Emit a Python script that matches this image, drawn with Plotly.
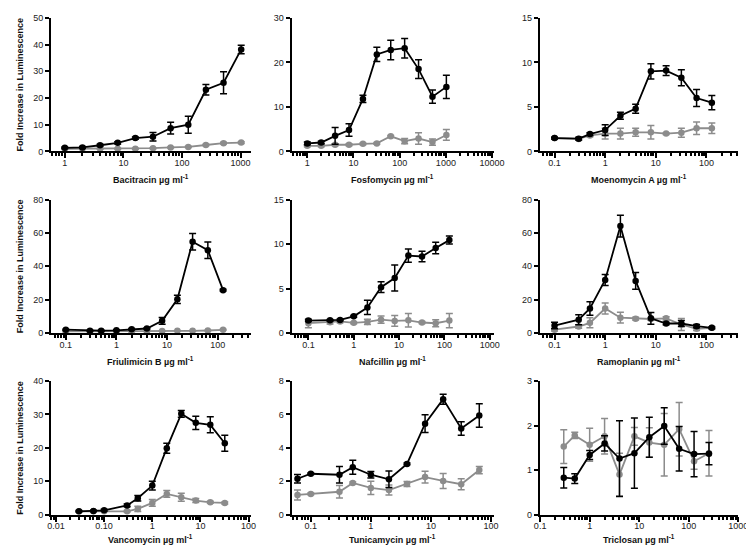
import math
import plotly.graph_objects as go

# ---------------- DATA ----------------
bac_x = [1, 2, 4, 8, 16, 32, 64, 128, 256, 512, 1024]
bac_blk = [1.35, 1.5, 2.3, 3.2, 5.0, 5.5, 8.7, 10.0, 23.1, 25.7, 38.2]
bac_blk_err = [0.3, 0.3, 0.4, 0.4, 0.4, 1.6, 2.2, 3.2, 2.0, 4.1, 1.6]
bac_gry = [1.0, 1.0, 1.0, 1.0, 1.0, 1.2, 1.5, 1.7, 2.4, 3.1, 3.3]
bac_gry_err = [0.2, 0.2, 0.2, 0.2, 0.2, 0.2, 0.2, 0.2, 0.3, 0.3, 0.3]

fos_x = [1, 2, 4, 8, 16, 32, 64, 128, 256, 512, 1024]
fos_blk = [1.8, 2.0, 3.5, 4.8, 11.8, 21.8, 22.8, 23.2, 18.5, 12.3, 14.5]
fos_blk_err = [0.3, 0.3, 1.9, 1.4, 0.8, 1.6, 2.2, 2.2, 2.1, 1.5, 2.6]
fos_gry = [1.25, 1.25, 1.5, 1.5, 1.7, 1.8, 3.4, 2.3, 2.9, 2.1, 3.7]
fos_gry_err = [0.2, 0.2, 0.2, 0.2, 0.2, 0.2, 0.2, 0.6, 1.3, 0.7, 1.2]

moe_x = [0.1, 0.3, 0.5, 1, 2, 4, 8, 16, 32, 64, 128]
moe_blk = [1.5, 1.43, 1.95, 2.4, 4.0, 4.8, 9.0, 9.08, 8.27, 6.0, 5.48]
moe_blk_err = [0.1, 0.15, 0.15, 0.6, 0.4, 0.5, 0.85, 0.55, 0.9, 0.95, 0.8]
moe_gry = [1.5, 1.4, 1.8, 2.0, 2.0, 2.15, 2.15, 2.0, 2.1, 2.6, 2.6]
moe_gry_err = [0.1, 0.1, 0.15, 0.6, 0.6, 0.45, 0.75, 0.1, 0.5, 0.7, 0.6]

fri_x = [0.1, 0.3, 0.5, 1, 2, 4, 8, 16, 32, 64, 128]
fri_blk = [2.0, 1.4, 1.4, 1.6, 2.3, 2.7, 7.3, 20.2, 54.7, 49.6, 25.7]
fri_blk_err = [0.3, 0.3, 0.3, 0.3, 0.4, 0.5, 2.0, 2.5, 5.0, 5.0, 0.5]
fri_gry = [1.0, 1.0, 1.0, 1.0, 1.0, 1.1, 1.2, 1.3, 1.3, 1.5, 1.9]
fri_gry_err = [0.2, 0.2, 0.2, 0.2, 0.2, 0.2, 0.2, 0.2, 0.2, 0.2, 0.3]

naf_x = [0.1, 0.3, 0.5, 1, 2, 4, 8, 16, 32, 64, 128]
naf_blk = [1.4, 1.43, 1.47, 1.87, 2.87, 5.15, 6.18, 8.7, 8.6, 9.56, 10.44]
naf_blk_err = [0.1, 0.1, 0.1, 0.1, 0.8, 0.6, 1.45, 0.75, 0.6, 0.65, 0.45]
naf_gry = [1.1, 1.2, 1.3, 1.15, 1.25, 1.5, 1.36, 1.43, 1.18, 1.1, 1.4]
naf_gry_err = [0.5, 0.2, 0.15, 0.1, 0.3, 0.4, 0.6, 0.75, 0.1, 0.4, 0.8]

ram_x = [0.1, 0.3, 0.5, 1, 2, 4, 8, 16, 32, 64, 128]
ram_blk = [4.5, 8.0, 14.7, 31.8, 64.1, 31.2, 8.8, 5.7, 5.7, 4.1, 3.1]
ram_blk_err = [2.0, 3.0, 4.0, 3.3, 6.5, 5.0, 3.5, 0.8, 1.8, 1.0, 0.5]
ram_gry = [2.0, 3.9, 6.1, 14.7, 9.2, 8.6, 8.4, 8.8, 5.1, 2.5, 3.1]
ram_gry_err = [0.8, 1.0, 3.0, 3.3, 3.2, 0.8, 0.8, 1.0, 3.6, 1.0, 0.5]

van_x = [0.03, 0.06, 0.1, 0.3, 0.5, 1, 2, 4, 8, 16, 32]
van_blk = [1.0, 1.1, 1.3, 2.75, 4.9, 8.7, 19.9, 30.2, 27.5, 26.9, 21.4]
van_blk_err = [0.2, 0.2, 0.3, 0.4, 0.8, 1.3, 1.5, 1.0, 2.0, 2.4, 2.4]
van_gry = [1.0, 1.0, 1.0, 1.0, 1.7, 3.5, 6.2, 5.2, 4.2, 3.7, 3.5]
van_gry_err = [0.1, 0.1, 0.1, 0.2, 0.8, 1.0, 1.0, 1.2, 0.6, 0.3, 0.3]

tun_x = [0.06, 0.1, 0.3, 0.5, 1, 2, 4, 8, 16, 32, 64]
tun_blk = [2.15, 2.45, 2.39, 2.84, 2.39, 2.12, 3.04, 5.45, 6.92, 5.16, 5.94]
tun_blk_err = [0.25, 0.05, 0.5, 0.42, 0.2, 0.5, 0.05, 0.53, 0.3, 0.4, 0.7]
tun_gry = [1.18, 1.24, 1.37, 1.9, 1.6, 1.47, 1.84, 2.25, 2.02, 1.82, 2.67]
tun_gry_err = [0.3, 0.05, 0.38, 0.05, 0.4, 0.3, 0.15, 0.35, 0.45, 0.33, 0.22]

tri_x = [0.3, 0.5, 1, 2, 4, 8, 16, 32, 64, 128, 256]
tri_blk = [0.83, 0.81, 1.34, 1.6, 1.26, 1.38, 1.74, 1.99, 1.48, 1.36, 1.37]
tri_blk_err = [0.23, 0.11, 0.1, 0.17, 0.85, 0.79, 0.45, 0.41, 0.5, 0.51, 0.25]
tri_gry = [1.53, 1.78, 1.57, 1.76, 0.9, 1.76, 1.62, 1.57, 1.92, 1.2, 1.38]
tri_gry_err = [0.38, 0.07, 0.37, 0.4, 0.48, 0.2, 0.33, 0.7, 0.6, 0.18, 0.51]

titles = ["Bacitracin", "Fosfomycin", "Moenomycin A",
          "Friulimicin B", "Nafcillin", "Ramoplanin",
          "Vancomycin", "Tunicamycin", "Triclosan"]
y_max = [50, 30, 15, 80, 15, 80, 40, 8, 3]
y_step = [10, 10, 5, 20, 5, 20, 10, 2, 1]
x_ticks = [
    [1, 10, 100, 1000],
    [1, 10, 100, 1000, 10000],
    [0.1, 1, 10, 100],
    [0.1, 1, 10, 100],
    [0.1, 1, 10, 100, 1000],
    [0.1, 1, 10, 100],
    [0.01, 0.1, 1, 10, 100],
    [0.1, 1, 10, 100],
    [0.1, 1, 10, 100, 1000],
]
x_ticktext = [
    ["1", "10", "100", "1000"],
    ["1", "10", "100", "1000", "10000"],
    ["0.1", "1", "10", "100"],
    ["0.1", "1", "10", "100"],
    ["0.1", "1", "10", "100", "1000"],
    ["0.1", "1", "10", "100"],
    ["0.01", "0.10", "1", "10", "100"],
    ["0.1", "1", "10", "100"],
    ["0.1", "1", "10", "100", "1000"],
]

panels = [
    (bac_x, bac_blk, bac_blk_err, bac_gry, bac_gry_err),
    (fos_x, fos_blk, fos_blk_err, fos_gry, fos_gry_err),
    (moe_x, moe_blk, moe_blk_err, moe_gry, moe_gry_err),
    (fri_x, fri_blk, fri_blk_err, fri_gry, fri_gry_err),
    (naf_x, naf_blk, naf_blk_err, naf_gry, naf_gry_err),
    (ram_x, ram_blk, ram_blk_err, ram_gry, ram_gry_err),
    (van_x, van_blk, van_blk_err, van_gry, van_gry_err),
    (tun_x, tun_blk, tun_blk_err, tun_gry, tun_gry_err),
    (tri_x, tri_blk, tri_blk_err, tri_gry, tri_gry_err),
]

# ---------------- LAYOUT ----------------
W, H = 754, 545
x_ranges = [(-0.233, 3.17), (-0.34, 4.04), (-1.29, 2.63),
            (-1.29, 2.65), (-1.37, 3.09), (-1.29, 2.63),
            (-2.1, 2.04), (-1.32, 2.05), (-1.005, 3.0)]
col_px = [(38, 242), (284, 491), (538, 741)]
row_px = [(5, 141), (190, 326), (375, 511)]
title_y_px = [169, 354, 536]

BLACK = "#000000"
GRAY = "#8c8c8c"
FONT = "Arial, Liberation Sans, sans-serif"


def minor_vals(lo, hi):
    out = []
    for d in range(math.floor(lo) - 1, math.ceil(hi) + 1):
        for m in range(2, 10):
            v = m * 10 ** d
            if lo <= math.log10(v) <= hi:
                out.append(v)
    return out


fig = go.Figure()
annotations = []
layout = {}
for i, (xs, yb, eb, yg, eg) in enumerate(panels):
    r, c = divmod(i, 3)
    sfx = "" if i == 0 else str(i + 1)
    xa, ya = "x" + sfx, "y" + sfx
    for ys, es, col in ((yg, eg, GRAY), (yb, eb, BLACK)):
        fig.add_trace(go.Scatter(
            x=xs, y=ys, xaxis=xa, yaxis=ya, mode="lines+markers",
            line=dict(color=col, width=1.8),
            marker=dict(color=col, size=6.5),
            error_y=dict(type="data", array=es, color=col, thickness=1.5, width=3.5),
            cliponaxis=False, showlegend=False))
    x0, x1 = col_px[c]
    y0, y1 = row_px[r]
    lo, hi = x_ranges[i]
    layout["xaxis" + sfx] = dict(
        type="log", range=[lo, hi], domain=[x0 / W, x1 / W], anchor=ya,
        showline=True, linecolor="black", linewidth=2, showgrid=False, zeroline=False,
        ticks="outside", ticklen=5, tickwidth=1.5, tickcolor="black",
        ticklabelstandoff=-3,
        tickmode="array", tickvals=x_ticks[i], ticktext=x_ticktext[i],
        tickfont=dict(family=FONT, size=9, color="#222"),
        minor=dict(tickmode="array", tickvals=minor_vals(lo, hi), ticks="outside",
                   ticklen=3, tickwidth=1.5, tickcolor="black", showgrid=False),
    )
    layout["yaxis" + sfx] = dict(
        range=[0, y_max[i]], domain=[1 - y1 / H, 1 - y0 / H], anchor=xa,
        showline=True, linecolor="black", linewidth=2, showgrid=False, zeroline=False,
        ticks="outside", ticklen=4, tickwidth=1.5, tickcolor="black",
        tickmode="linear", tick0=0, dtick=y_step[i],
        tickfont=dict(family=FONT, size=9, color="#222"),
    )
    annotations.append(dict(
        x=(x0 + x1) / 2 / W, y=1 - title_y_px[r] / H, xref="paper", yref="paper",
        text="<b>%s µg ml<sup>-1</sup></b>" % titles[i], showarrow=False,
        font=dict(family=FONT, size=9, color="#111"), xanchor="center", yanchor="middle"))
    if c == 0:
        annotations.append(dict(
            x=6 / W, y=1 - (y0 + y1) / 2 / H, xref="paper", yref="paper",
            text="<b>Fold Increase in Luminescence</b>", showarrow=False, textangle=-90,
            font=dict(family=FONT, size=9, color="#111"), xanchor="center", yanchor="middle"))

fig.update_layout(
    width=W, height=H, margin=dict(l=0, r=0, t=0, b=0),
    paper_bgcolor="white", plot_bgcolor="white",
    annotations=annotations, **layout)

fig.write_html("out.html")
